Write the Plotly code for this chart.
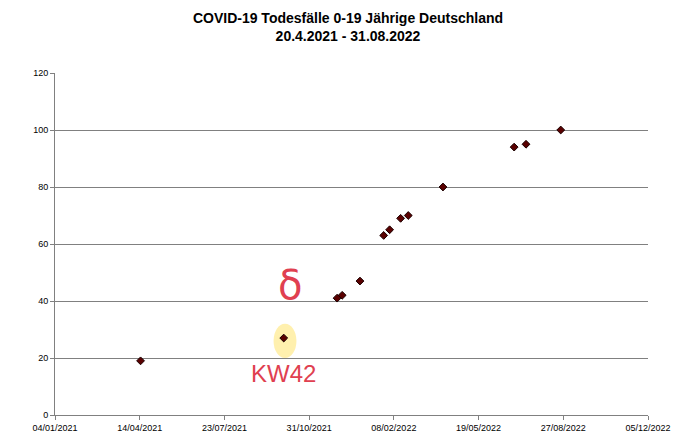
import plotly.graph_objects as go

dates = ["2021-04-15", "2021-10-01", "2021-12-03", "2021-12-09", "2021-12-30",
         "2022-01-27", "2022-02-03", "2022-02-16", "2022-02-25", "2022-04-07",
         "2022-06-30", "2022-07-14", "2022-08-24"]
deaths = [19, 27, 41, 42, 47, 63, 65, 69, 70, 80, 94, 95, 100]

tick_vals = ["2021-01-04", "2021-04-14", "2021-07-23", "2021-10-31",
             "2022-02-08", "2022-05-19", "2022-08-27", "2022-12-05"]
tick_text = ["04/01/2021", "14/04/2021", "23/07/2021", "31/10/2021",
             "08/02/2022", "19/05/2022", "27/08/2022", "05/12/2022"]

fig = go.Figure()

# gelber Marker um KW42
fig.add_shape(type="circle", xref="x", yref="y",
              x0="2021-09-19", x1="2021-10-16", y0=20, y1=32,
              fillcolor="rgba(255,230,120,0.6)", line_width=0, layer="below")

fig.add_trace(go.Scatter(
    x=dates, y=deaths, mode="markers",
    marker=dict(symbol="diamond", size=6, color="#5a0000",
                line=dict(color="#1a0000", width=1)),
))

fig.add_annotation(x="2021-10-01", y=20, text="KW42", showarrow=False,
                   font=dict(family="Liberation Sans", size=24, color="#e04050"),
                   yanchor="top")
fig.add_annotation(x="2021-10-08", y=37, text="δ", showarrow=False,
                   font=dict(family="DejaVu Sans", size=40, color="#e04050"),
                   yanchor="bottom")

fig.update_layout(
    width=680, height=434,
    title=dict(text="<b>COVID-19 Todesfälle 0-19 Jährige Deutschland<br>20.4.2021 - 31.08.2022</b>",
               x=0.5, xanchor="center", y=0.965, yanchor="top", automargin=False,
               font=dict(family="Liberation Sans", size=14, color="#000")),
    paper_bgcolor="white", plot_bgcolor="white",
    font=dict(family="Liberation Sans", size=9, color="#000"),
    margin=dict(l=47, r=40, t=65, b=27),
    showlegend=False,
    xaxis=dict(range=["2021-01-04", "2022-12-05"], tickvals=tick_vals, ticktext=tick_text,
               showgrid=False, showline=True, linecolor="#808080", ticks="outside",
               ticklen=4, tickcolor="#808080", tickfont=dict(size=9), automargin=False),
    yaxis=dict(range=[0, 120], dtick=20, showgrid=True, gridcolor="#808080",
               showline=True, linecolor="#808080", ticks="outside", ticklen=4,
               tickcolor="#808080", tickfont=dict(size=9), zeroline=False, automargin=False),
)

fig.write_html("out.html")
